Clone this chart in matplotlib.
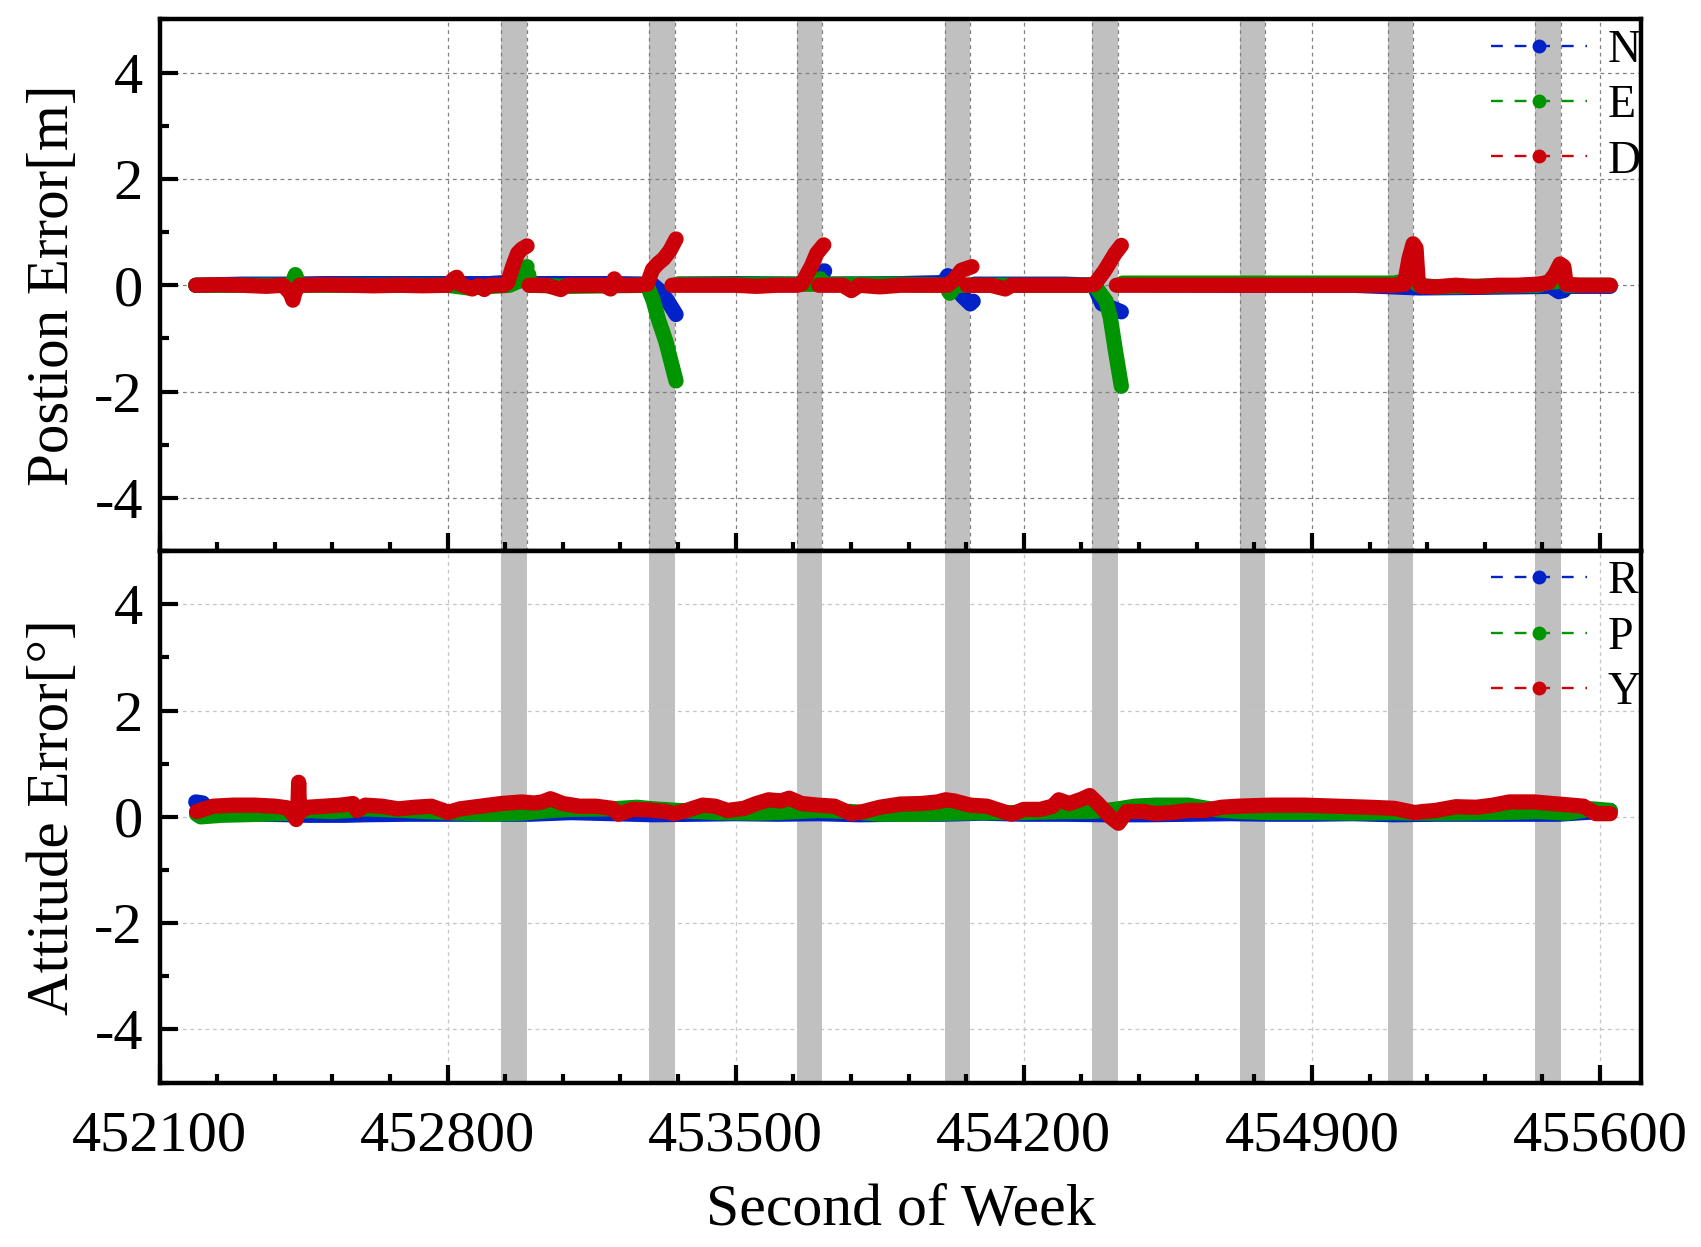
import numpy as np
import matplotlib
matplotlib.use('Agg')
import matplotlib.pyplot as plt
from matplotlib.lines import Line2D
from matplotlib.ticker import MultipleLocator

plt.rcParams['font.family'] = ['Liberation Serif', 'DejaVu Serif']
plt.rcParams['axes.unicode_minus'] = False

nan = np.nan

# GNSS outage windows (s)
outage_start = [452930, 453290, 453648, 454008, 454366, 454725, 455084, 455443]
outage_end = [452992, 453352, 453710, 454070, 454428, 454787, 455146, 455505]

x_ticks = [452100, 452800, 453500, 454200, 454900, 455600]

# position error [m]
t_N = [452188, 452300, 452420, 452500, 452700, 452900, 452940, 452990, nan,
       453000, 453200, 453290, 453300, 453315, 453335, 453355, nan,
       453360, 453500, 453650, 453700, 453716, nan,
       453720, 453900, 454005, 454015, 454030, 454050, 454070, 454077, nan,
       454080, 454300, 454370, 454390, 454437, nan,
       454440, 454700, 455000, 455160, 455300, 455480, 455500, 455512, 455520, 455625]
N = [0.0, 0.02, 0.02, 0.03, 0.03, 0.03, 0.05, 0.1, nan,
     0.03, 0.03, 0.02, 0.0, -0.1, -0.3, -0.55, nan,
     0.02, 0.03, 0.02, 0.1, 0.27, nan,
     0.02, 0.03, 0.05, 0.18, 0.05, -0.2, -0.35, -0.3, nan,
     0.02, 0.02, 0.0, -0.35, -0.5, nan,
     0.02, 0.0, 0.0, -0.05, -0.04, -0.02, -0.12, -0.1, -0.02, -0.02]

t_E = [452188, 452300, 452420, 452430, 452440, 452600, 452800, 452850, 452950, 452980, 452993, nan,
       452997, 453000, 453100, 453285, 453300, 453312, 453330, 453355, nan,
       453358, 453500, 453690, 453705, 453712, 453720, 453900, 454010, 454020, 454035,
       454360, 454372, 454400, 454410, 454422, 454437, nan,
       454440, 454700, 455000, 455100, 455140, 455160, 455200, 455450, 455470, 455510, 455520, 455625]
E = [0.0, 0.0, 0.0, 0.2, 0.0, 0.0, 0.0, -0.05, 0.0, 0.1, 0.35, nan,
     0.2, 0.0, -0.02, 0.0, -0.3, -0.64, -1.05, -1.8, nan,
     0.02, 0.02, 0.02, 0.12, 0.05, 0.02, 0.02, 0.0, -0.15, 0.0,
     0.0, 0.0, -0.3, -0.6, -1.2, -1.9, nan,
     0.04, 0.04, 0.04, 0.04, 0.1, 0.0, -0.03, 0.0, 0.05, 0.08, 0.0, 0.0]

t_D = [452188, 452240, 452300, 452360, 452400, 452418, 452424, 452430, 452440, 452500,
       452560, 452620, 452680, 452740, 452800, 452815, 452822, 452830, 452860, 452875,
       452889, 452900, 452935, 452946, 452958, 452970, 452980, 452993, nan,
       452998, 453040, 453075, 453090, 453140, 453180, 453196, 453205, 453215, 453260,
       453285, 453298, 453310, 453325, 453340, 453355, nan,
       453345, 453400, 453450, 453500, 453550, 453600, 453650, 453660, 453684, 453697, 453714, nan,
       453702, 453760, 453781, 453800, 453850, 453900, 453950, 454000, 454015, 454030, 454048, 454074, nan,
       454062, 454120, 454155, 454170, 454250, 454350, 454372, 454396, 454422, 454437, nan,
       454425, 454500, 454600, 454700, 454800, 454900, 455000, 455100, 455125, 455136,
       455146, 455153, 455158, 455165, 455200, 455250, 455300, 455350, 455400, 455450,
       455475, 455490, 455503, 455512, 455518, 455550, 455600, 455625]
D = [0.0, 0.01, 0.0, -0.02, 0.0, -0.15, -0.28, -0.1, 0.0, 0.01,
     0.0, -0.01, 0.0, -0.01, 0.0, 0.12, 0.15, 0.02, -0.07, 0.0,
     -0.08, 0.0, 0.0, 0.05, 0.35, 0.6, 0.68, 0.74, nan,
     0.0, 0.0, -0.08, 0.0, 0.0, 0.0, -0.07, 0.12, 0.0, 0.0,
     0.02, 0.3, 0.4, 0.5, 0.65, 0.87, nan,
     0.0, 0.0, 0.0, 0.0, -0.02, 0.0, 0.0, 0.02, 0.36, 0.6, 0.76, nan,
     0.0, 0.0, -0.1, 0.0, -0.03, 0.0, 0.0, 0.0, 0.0, 0.1, 0.28, 0.35, nan,
     0.0, 0.0, -0.07, 0.0, 0.0, 0.0, 0.02, 0.27, 0.6, 0.75, nan,
     0.0, 0.0, 0.0, 0.0, 0.0, 0.0, 0.0, 0.0, 0.02, 0.5,
     0.78, 0.7, 0.1, -0.02, -0.03, 0.0, -0.03, 0.0, 0.0, 0.02,
     0.05, 0.2, 0.4, 0.35, 0.02, 0.0, 0.0, 0.0]

# attitude error [deg]
t_R = [452188, 452205, 452220, 452260, 452350, 452420, 452460, 452550, 452600, 452700,
       452800, 452900, 453000, 453100, 453200, 453300, 453400, 453500, 453600, 453700,
       453800, 453900, 454000, 454100, 454200, 454300, 454400, 454500, 454600, 454700,
       454800, 454900, 455000, 455100, 455200, 455300, 455400, 455500, 455600, 455625]
R = [0.28, 0.26, 0.1, 0.06, 0.05, 0.04, 0.03, 0.03, 0.04, 0.05,
     0.05, 0.05, 0.05, 0.08, 0.06, 0.04, 0.05, 0.06, 0.05, 0.06,
     0.04, 0.05, 0.05, 0.07, 0.05, 0.05, 0.04, 0.04, 0.05, 0.06,
     0.05, 0.05, 0.06, 0.04, 0.05, 0.05, 0.05, 0.05, 0.1, 0.12]

t_P = [452190, 452200, 452250, 452350, 452420, 452460, 452520, 452560, 452600, 452700,
       452800, 452900, 452980, 453050, 453100, 453200, 453260, 453300, 453360, 453450,
       453550, 453600, 453700, 453780, 453850, 453950, 454030, 454100, 454200, 454300,
       454360, 454400, 454430, 454470, 454520, 454600, 454660, 454720, 454800, 454900,
       455000, 455100, 455160, 455250, 455350, 455450, 455520, 455580, 455625]
P = [0.05, 0.0, 0.03, 0.05, 0.07, 0.12, 0.1, 0.12, 0.15, 0.12,
     0.08, 0.05, 0.07, 0.12, 0.14, 0.15, 0.18, 0.15, 0.12, 0.08,
     0.07, 0.08, 0.12, 0.1, 0.05, 0.05, 0.07, 0.08, 0.08, 0.1,
     0.1, 0.12, 0.15, 0.2, 0.22, 0.22, 0.14, 0.1, 0.08, 0.08,
     0.07, 0.08, 0.07, 0.07, 0.08, 0.1, 0.07, 0.15, 0.12]

t_Y = [452190, 452230, 452280, 452330, 452380, 452410, 452425, 452432, 452436, 452438,
       452440, 452460, 452500, 452540, 452570, 452580, 452600, 452640, 452680, 452720,
       452760, 452790, 452800, 452830, 452880, 452930, 452980, 453010, 453030, 453050,
       453080, 453120, 453160, 453200, 453215, 453250, 453290, 453330, 453350, 453380,
       453420, 453450, 453480, 453520, 453550, 453580, 453610, 453630, 453660, 453700,
       453740, 453780, 453810, 453850, 453900, 453950, 453990, 454010, 454030, 454070,
       454110, 454150, 454170, 454200, 454240, 454270, 454285, 454310, 454340, 454360,
       454380, 454410, 454430, 454450, 454490, 454520, 454560, 454600, 454640, 454680,
       454720, 454800, 454880, 454960, 455040, 455100, 455150, 455170, 455200, 455250,
       455300, 455340, 455380, 455440, 455500, 455560, 455590, 455625]
Y = [0.1, 0.2, 0.22, 0.22, 0.2, 0.17, 0.05, -0.05, 0.1, 0.65,
     0.1, 0.18, 0.2, 0.22, 0.25, 0.12, 0.22, 0.2, 0.15, 0.18,
     0.2, 0.12, 0.08, 0.15, 0.2, 0.25, 0.28, 0.26, 0.28, 0.34,
     0.25, 0.2, 0.2, 0.16, 0.05, 0.14, 0.13, 0.1, 0.06, 0.12,
     0.22, 0.2, 0.12, 0.16, 0.25, 0.32, 0.3, 0.35, 0.25, 0.22,
     0.2, 0.06, 0.1, 0.18, 0.24, 0.25, 0.28, 0.32, 0.3, 0.22,
     0.2, 0.1, 0.05, 0.14, 0.14, 0.2, 0.32, 0.25, 0.33, 0.4,
     0.25, 0.0, -0.12, 0.1, 0.1, 0.06, 0.08, 0.12, 0.12, 0.18,
     0.2, 0.22, 0.22, 0.2, 0.18, 0.16, 0.08, 0.1, 0.12, 0.19,
     0.18, 0.22, 0.28, 0.28, 0.24, 0.2, 0.06, 0.06]

colors = ['#0022C8', '#009400', '#CC0008']

fig = plt.figure(figsize=(17.01, 12.47), dpi=100)
ax1 = fig.add_axes([0.0938, 0.5581, 0.871, 0.4263])
ax2 = fig.add_axes([0.0938, 0.1318, 0.871, 0.4263])

panels = [
    (ax1, [(t_N, N), (t_E, E), (t_D, D)], ['N', 'E', 'D'], 'Postion Error[m]', '#808080'),
    (ax2, [(t_R, R), (t_P, P), (t_Y, Y)], ['R', 'P', 'Y'], 'Attitude Error[°]', '#C4C4C4'),
]

for ax, series, labels, ylab, gcol in panels:
    for s, e in zip(outage_start, outage_end):
        ax.axvspan(s, e, color='#C0C0C0', lw=0, zorder=0.3)
        if ax is ax1:
            ax.axvline(s, color='#808080', ls=(0, (3, 3)), lw=0.9, zorder=0.4)
            ax.axvline(e, color='#808080', ls=(0, (3, 3)), lw=0.9, zorder=0.4)
    for (t, v), c in zip(series, colors):
        ax.plot(t, v, color=c, lw=11, solid_capstyle='round',
                solid_joinstyle='round', zorder=2)

    ax.set_xlim(452100, 455700)
    ax.set_ylim(-5, 5)
    ax.set_xticks(x_ticks)
    ax.set_xticks(np.arange(452100, 455700, 140), minor=True)
    ax.yaxis.set_major_locator(MultipleLocator(2))
    ax.yaxis.set_minor_locator(MultipleLocator(1))
    ax.set_axisbelow(True)
    ax.grid(True, which='major', color=gcol, ls=(0, (3, 3)), lw=0.9)
    for sp in ax.spines.values():
        sp.set_linewidth(3.2)
        sp.set_zorder(5)
    ax.tick_params(which='both', direction='in', width=3, labelsize=42,
                   top=False, right=False)
    ax.tick_params(which='major', length=13, pad=12)
    ax.tick_params(which='minor', length=6.5)
    ax.tick_params(axis='x', pad=20)
    ax.set_ylabel(ylab, fontsize=42.5, va='center')
    ax.yaxis.set_label_coords(-0.071, 0.5)

    handles = [Line2D([], [], color=c, lw=1.7, ls=(0, (5, 5)), marker='o', ms=9)
               for c in colors]
    ax.legend(handles, labels, loc='upper right', bbox_to_anchor=(1.003, 0.99),
              frameon=False, fontsize=33, handlelength=2.1, handletextpad=0.45,
              labelspacing=0.28, borderaxespad=0.0, borderpad=0.1)

ax1.tick_params(axis='x', labelbottom=False)
ax2.set_xlabel('Second of Week', fontsize=43)
ax2.xaxis.set_label_coords(0.5, -0.19)

fig.savefig('out.png', dpi=100)
